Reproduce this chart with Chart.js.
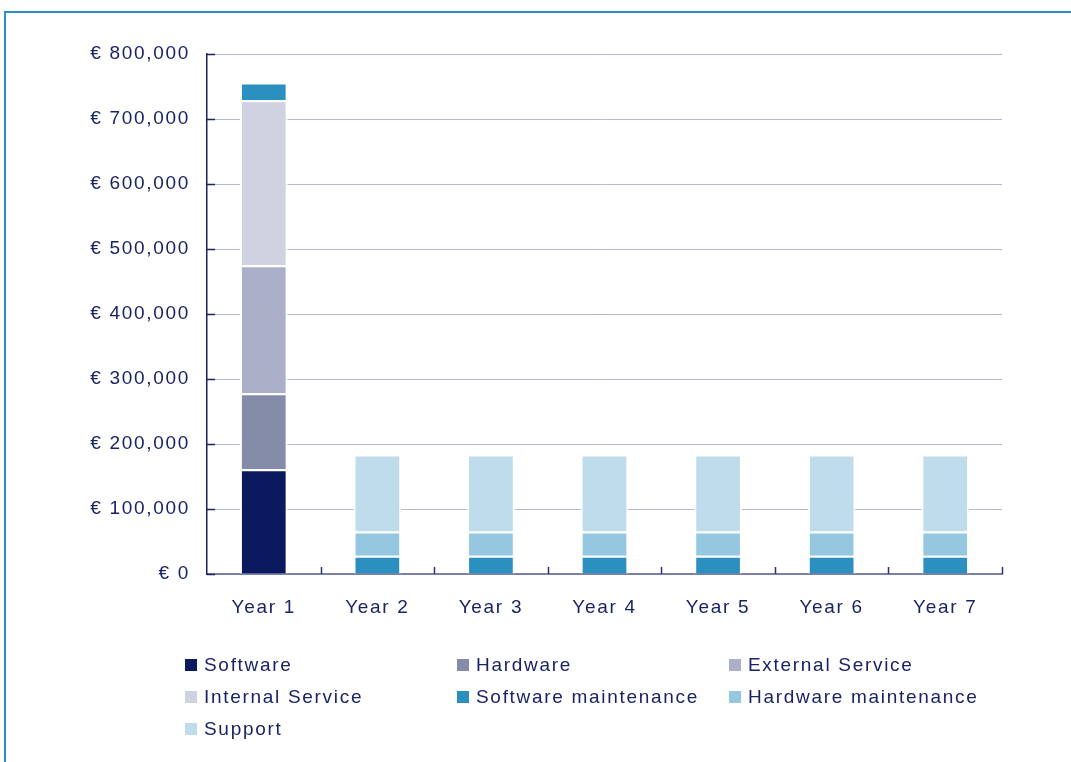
<!DOCTYPE html>
<html>
<head>
<meta charset="utf-8">
<script src="https://cdn.jsdelivr.net/npm/chart.js@4/dist/chart.umd.min.js"></script>
<style>
  html, body { margin: 0; padding: 0; background: #fff; }
  #wrap { position: relative; width: 1071px; height: 762px; overflow: hidden; }
  #frame { position: absolute; left: 4px; top: 11px; width: 1200px; height: 900px;
           border-top: 2px solid #2b8fc0; border-left: 2px solid #2b8fc0; }
  #chart { position: absolute; left: 0; top: 0; }
  #legend { position: absolute; left: 185px; top: 653px; display: grid;
            grid-template-columns: 272px 272px 272px; grid-auto-rows: 32px;
            font: 19px "Liberation Sans", Arial, sans-serif; letter-spacing: 1.7px; color: #1a2366; }
  .item { display: flex; align-items: center; height: 24px; white-space: nowrap; }
  .sw { width: 12px; height: 12px; margin-right: 7px; flex: none; }
</style>
</head>
<body>
<div id="wrap">
  <div id="frame"></div>
  <canvas id="chart" width="1071" height="762"></canvas>
  <div id="legend"></div>
</div>
<script>
// Cost categories per year (EUR)
const categories = ['Year 1', 'Year 2', 'Year 3', 'Year 4', 'Year 5', 'Year 6', 'Year 7'];
const software            = [161000, null, null, null, null, null, null];
const hardware            = [117000, null, null, null, null, null, null];
const externalService     = [197000, null, null, null, null, null, null];
const internalService     = [254000, null, null, null, null, null, null];
const softwareMaintenance = [27000, 28000, 28000, 28000, 28000, 28000, 28000];
const hardwareMaintenance = [null, 37500, 37500, 37500, 37500, 37500, 37500];
const support             = [null, 118500, 118500, 118500, 118500, 118500, 118500];

const seriesNames = ['Software', 'Hardware', 'External Service', 'Internal Service',
                     'Software maintenance', 'Hardware maintenance', 'Support'];
const seriesValues = [software, hardware, externalService, internalService,
                      softwareMaintenance, hardwareMaintenance, support];
const seriesColors = ['#0b1a5e', '#858caa', '#abb0c8', '#cfd2e0', '#2b8fc0', '#95c7e0', '#bfdcec'];

const yMin = 0, yMax = 800000, yStep = 100000;

const TEXT = '#1a2366';
const FONT = { family: '"Liberation Sans", Arial, sans-serif', size: 19 };
const SPACING = '1.7px';

// Wider glyph spacing for all canvas text
const letterSpacing = {
  id: 'letterSpacing',
  beforeUpdate(c) { c.ctx.letterSpacing = SPACING; },
  beforeDraw(c) { c.ctx.letterSpacing = SPACING; }
};

// Short inward tick marks on both axes
const innerTicks = {
  id: 'innerTicks',
  afterDraw(c) {
    const { ctx, chartArea: a } = c;
    const x = c.scales.x, y = c.scales.y;
    ctx.save();
    ctx.strokeStyle = TEXT;
    ctx.lineWidth = 1.5;
    y.ticks.forEach((t, i) => {
      const py = Math.round(y.getPixelForTick(i)) + 0.5;
      ctx.beginPath(); ctx.moveTo(a.left, py); ctx.lineTo(a.left + 8, py); ctx.stroke();
    });
    ctx.strokeStyle = '#2a3270';
    for (let i = 1; i <= categories.length; i++) {
      const px = Math.round(x.getPixelForValue(i - 0.5)) + 0.5;
      ctx.beginPath(); ctx.moveTo(px, a.bottom); ctx.lineTo(px, a.bottom - 7); ctx.stroke();
    }
    ctx.restore();
  }
};

const chart = new Chart(document.getElementById('chart'), {
  type: 'bar',
  data: {
    labels: categories,
    datasets: seriesNames.map((name, i) => ({
      label: name,
      data: seriesValues[i],
      backgroundColor: seriesColors[i],
      borderColor: '#ffffff',
      borderWidth: 2,
      borderSkipped: 'start',
      barPercentage: 0.42,
      categoryPercentage: 1
    }))
  },
  options: {
    responsive: false,
    animation: false,
    layout: { padding: { top: 54, right: 69, bottom: 0, left: 0 } },
    plugins: { legend: { display: false }, tooltip: { enabled: false } },
    scales: {
      x: {
        stacked: true,
        offset: true,
        grid: { display: false },
        border: { display: true, color: '#7a80a8', width: 2 },
        ticks: { color: TEXT, font: FONT, padding: 14, maxRotation: 0 },
        afterFit(s) { s.height = 762 - 574; }
      },
      y: {
        stacked: true,
        min: yMin, max: yMax,
        grid: { color: '#b4b8d4', lineWidth: 1, drawTicks: false },
        border: { display: true, color: TEXT, width: 1.5 },
        ticks: {
          stepSize: yStep, color: TEXT, font: FONT, padding: 17,
          callback: v => '€ ' + Number(v).toLocaleString('en-US')
        },
        afterFit(s) { s.width = 207; }
      }
    }
  },
  plugins: [letterSpacing, innerTicks]
});

// Three-column legend built from the dataset definitions
const legend = document.getElementById('legend');
chart.data.datasets.forEach(ds => {
  const item = document.createElement('div');
  item.className = 'item';
  const sw = document.createElement('span');
  sw.className = 'sw';
  sw.style.background = ds.backgroundColor;
  const label = document.createElement('span');
  label.textContent = ds.label;
  item.appendChild(sw);
  item.appendChild(label);
  legend.appendChild(item);
});
</script>
</body>
</html>
